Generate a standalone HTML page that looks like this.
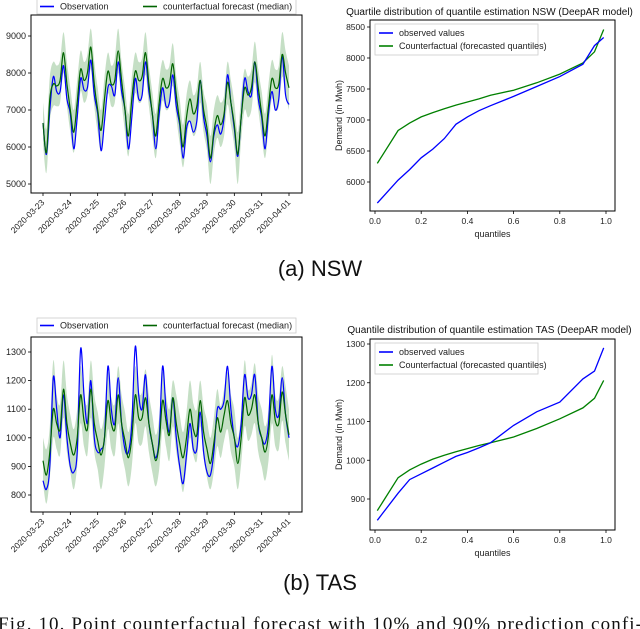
<!DOCTYPE html>
<html><head><meta charset="utf-8">
<style>
html,body{margin:0;padding:0;background:#fff;}
svg{display:block;font-family:"Liberation Sans",sans-serif;}
</style></head>
<body>
<svg id="fig" width="640" height="629" viewBox="0 0 640 629" xmlns="http://www.w3.org/2000/svg">
<text x="320" y="276" font-size="22" text-anchor="middle" fill="#111">(a) NSW</text>
<text x="320" y="590" font-size="22" text-anchor="middle" fill="#111">(b) TAS</text>
<text x="-2" y="630" font-size="19" font-family="'Liberation Serif',serif" fill="#111" textLength="644">Fig. 10.  Point counterfactual forecast with 10% and 90% prediction confi-</text>
</svg>
<script>
const dayLabels=["2020-03-23","2020-03-24","2020-03-25","2020-03-26","2020-03-27","2020-03-28","2020-03-29","2020-03-30","2020-03-31","2020-04-01"];
const nswObs=[6650,5800,7000,7900,7500,7500,8200,7300,6900,5950,6800,7850,7550,7600,8350,7400,6900,5900,6700,7600,7650,7400,8300,7500,7000,5950,6800,7850,7300,7400,8300,7500,6900,5950,6900,7600,7100,7200,7950,7100,6600,5700,6500,6700,6400,6700,7800,6800,6300,5600,6300,6600,6350,6800,7950,7200,6500,5750,6800,7850,7500,7400,8300,7300,6800,5950,6900,7500,7000,7300,8450,7400,7150];
const nswMed=[6650,5850,7300,7700,7650,7800,8550,7700,7000,6400,7200,8100,7800,8000,8700,7700,7000,6450,7300,8050,7700,7800,8600,7800,7000,6300,7300,8050,7800,7900,8550,7700,6900,6300,7200,7850,7600,7700,8250,7400,6700,6000,6800,7300,6900,7100,7800,7000,6500,5700,6400,6850,6600,6900,7750,7200,6600,5800,6800,7600,7400,7600,8300,7600,6900,6300,7100,7850,7600,7700,8500,8000,7600];
const nswHi=[7200,6500,7900,8300,8200,8350,9100,8300,7600,7000,7800,8600,8300,8500,9200,8300,7600,7000,7900,8550,8200,8400,9200,8300,7600,6900,7900,8550,8300,8400,9100,8200,7500,6900,7800,8350,8100,8200,8800,7900,7300,6600,7400,7800,7400,7600,8300,7500,7100,6300,7000,7400,7200,7400,8300,7800,7200,6400,7400,8100,7900,8100,8850,8100,7500,6900,7700,8350,8100,8200,9100,8600,8200];
const nswLo=[6100,5300,6700,7100,7100,7200,8000,7100,6400,5850,6600,7500,7200,7400,8100,7100,6400,5900,6700,7450,7100,7200,8000,7200,6400,5750,6700,7450,7200,7300,7950,7100,6300,5700,6600,7250,7000,7100,7650,6800,6100,5450,6200,6700,6300,6500,7200,6400,5900,5000,5800,6250,6000,6300,7150,6600,6000,5000,6200,7000,6800,7000,7750,7000,6300,5700,6500,7300,7000,7100,7900,7400,7000];
const tasObs=[850,820,900,1210,1100,1000,1150,1000,900,880,950,1310,1150,1050,1200,1000,950,960,1000,1250,1100,1050,1210,1050,960,950,1050,1320,1150,1100,1220,1050,980,930,1000,1250,1100,1020,1140,1000,900,840,940,1050,960,960,1090,950,880,870,950,1100,1100,1130,1250,1100,1000,970,1050,1220,1140,1150,1220,1050,1000,980,1050,1250,1100,1080,1210,1080,1000];
const tasMed=[920,870,950,1100,1050,1030,1170,1050,980,940,1000,1150,1060,1030,1170,1050,990,940,1000,1130,1050,1030,1150,1050,990,930,1000,1150,1070,1070,1140,1050,980,920,980,1130,1060,1010,1140,1050,980,930,1000,1100,1030,1010,1130,1020,960,910,980,1070,1020,1080,1130,1050,1000,910,1000,1140,1080,1100,1150,1050,1000,950,1010,1150,1060,1050,1160,1080,1010];
const tasHi=[1000,960,1040,1270,1150,1120,1270,1150,1080,1030,1100,1250,1150,1120,1270,1150,1090,1030,1090,1230,1140,1120,1250,1150,1090,1020,1100,1250,1160,1160,1240,1150,1080,1010,1070,1230,1150,1100,1200,1150,1080,1020,1090,1200,1120,1100,1200,1110,1060,1000,1070,1170,1110,1170,1230,1150,1100,1000,1090,1270,1170,1190,1260,1150,1100,1040,1100,1290,1150,1140,1250,1180,1100];
const tasLo=[840,770,860,1000,960,940,1070,950,880,820,900,1050,970,940,1070,950,890,820,900,1030,960,940,1050,950,890,830,900,1050,980,980,1040,950,880,830,890,1030,970,920,1040,950,880,810,900,1000,940,920,1040,930,860,820,880,970,930,990,1030,950,900,820,910,1040,990,1010,1050,950,900,850,920,1050,970,960,1060,980,920];
const qLevels=[0.01,0.1,0.15,0.2,0.25,0.3,0.35,0.4,0.45,0.5,0.6,0.7,0.8,0.9,0.95,0.99];
const nswQObs=[5660,6030,6200,6390,6530,6700,6930,7050,7150,7230,7380,7540,7700,7900,8200,8330];
const nswQCf=[6300,6830,6950,7050,7120,7180,7240,7290,7340,7400,7480,7600,7740,7920,8100,8460];
const tasQObs=[845,915,950,965,980,995,1010,1020,1032,1045,1090,1125,1150,1210,1230,1290];
const tasQCf=[870,955,975,990,1003,1013,1022,1030,1038,1045,1060,1082,1107,1135,1160,1206];
const nswTsTicks=[5000,6000,7000,8000,9000];
const tasTsTicks=[800,900,1000,1100,1200,1300];
const nswQTicks=[6000,6500,7000,7500,8000,8500];
const tasQTicks=[900,1000,1100,1200,1300];
const qXTicks=[0,0.2,0.4,0.6,0.8,1.0];
const qXLabels=["0.0","0.2","0.4","0.6","0.8","1.0"];

const NS="http://www.w3.org/2000/svg";
const svg=document.getElementById('fig');
function mk(tag,attrs,parent,txt){const e=document.createElementNS(NS,tag);for(const k in attrs)e.setAttribute(k,attrs[k]);if(txt!==undefined)e.textContent=txt;(parent||svg).appendChild(e);return e;}
function lin(d0,d1,r0,r1){return v=>r0+(v-d0)*(r1-r0)/(d1-d0);}
function pathOf(xs,ys,xf,yf){return xs.map((x,i)=>(i?'L':'M')+xf(x).toFixed(1)+' '+yf(ys[i]).toFixed(1)).join(' ');}
function smoothPts(P,move){
  let d=move?'M'+P[0][0].toFixed(1)+' '+P[0][1].toFixed(1):'L'+P[0][0].toFixed(1)+' '+P[0][1].toFixed(1);
  for(let i=0;i<P.length-1;i++){
    const p0=P[Math.max(i-1,0)],p1=P[i],p2=P[i+1],p3=P[Math.min(i+2,P.length-1)];
    const c1=[p1[0]+(p2[0]-p0[0])/6,p1[1]+(p2[1]-p0[1])/6],c2=[p2[0]-(p3[0]-p1[0])/6,p2[1]-(p3[1]-p1[1])/6];
    d+=` C${c1[0].toFixed(1)} ${c1[1].toFixed(1)} ${c2[0].toFixed(1)} ${c2[1].toFixed(1)} ${p2[0].toFixed(1)} ${p2[1].toFixed(1)}`;
  }
  return d;
}

function legend(g,x,y,w,h,items,gap,horizontal){
  const r=mk('rect',{x:x,y:y,width:w,height:h,fill:'#fff',stroke:'#ccc','stroke-width':0.8},g);
  
  items.forEach((it,i)=>{
    const lx=horizontal?x+it.off:x+4, ly=horizontal?y+h/2:y+9+i*gap;
    const e=mk('g',{},g);
    
    
    mk('line',{x1:lx,y1:ly,x2:lx+14,y2:ly,stroke:it.c,'stroke-width':1.6},e);
    mk('text',{x:lx+20,y:ly+3.2,'font-size':9,fill:'#222'},e,it.t);
  });
}

function tsChart(name,top,bottom,yMin,yMax,yTickVals,obs,med,lo,hi,legY){
  const g=mk('g',{});
  
  
  const L=31,R=302,x0=43,x1=289;
  const xs=obs.map((_,i)=>i/8);
  const xf=lin(0,9,x0,x1);
  const yf=lin(yMin,yMax,bottom,top);
  const P=(arr)=>xs.map((x,i)=>[xf(x),yf(arr[i])]);
  const band=smoothPts(P(hi),true)+' '+smoothPts(P(lo).reverse(),false)+'Z';
  const b=mk('path',{d:band,fill:'#2e8b2e','fill-opacity':0.28,stroke:'none'},g);
  
  const po=mk('path',{d:smoothPts(P(obs),true),fill:'none',stroke:'#0000ff','stroke-width':1.2},g);
  
  const pm=mk('path',{d:smoothPts(P(med),true),fill:'none',stroke:'#006400','stroke-width':1.2},g);
  
  const fr=mk('rect',{x:L,y:top,width:R-L,height:bottom-top,fill:'none',stroke:'#000','stroke-width':1},g);
  
  yTickVals.forEach(v=>{
    const y=yf(v);
    mk('line',{x1:L-3,y1:y,x2:L,y2:y,stroke:'#000','stroke-width':0.8},g);
    const t=mk('text',{x:L-5,y:y+3,'font-size':9,'text-anchor':'end',fill:'#222'},g,String(v));
    
  });
  dayLabels.forEach((d,i)=>{
    const x=xf(i);
    mk('line',{x1:x,y1:bottom,x2:x,y2:bottom+3,stroke:'#000','stroke-width':0.8},g);
    const t=mk('text',{x:x+2,y:bottom+10,'font-size':8.5,'text-anchor':'end',fill:'#222',transform:`rotate(-45 ${x+2} ${bottom+10})`},g,d);
    
  });
  legend(g,37,legY,259,15,[{c:'#0000ff',t:'Observation',off:3},{c:'#006400',t:'counterfactual forecast (median)',off:106}],0,true);
}

function qChart(name,title,top,bottom,yMin,yMax,yTickVals,qo,qc,titleY,legY){
  const g=mk('g',{});
  
  
  const L=370,R=615;
  const xf=lin(0,1,375,606), yf=lin(yMin,yMax,bottom,top);
  const tt=mk('text',{x:(L+R)/2-3,y:titleY,'font-size':10,'text-anchor':'middle',fill:'#111'},g,title);
  
  const lc=mk('path',{d:pathOf(qLevels,qc,xf,yf),fill:'none',stroke:'#008000','stroke-width':1.3},g);
  
  const lo=mk('path',{d:pathOf(qLevels,qo,xf,yf),fill:'none',stroke:'#0000ff','stroke-width':1.3},g);
  
  const fr=mk('rect',{x:L,y:top,width:R-L,height:bottom-top,fill:'none',stroke:'#000','stroke-width':1},g);
  
  yTickVals.forEach(v=>{
    const y=yf(v);
    mk('line',{x1:L-3,y1:y,x2:L,y2:y,stroke:'#000','stroke-width':0.8},g);
    const t=mk('text',{x:L-5,y:y+3,'font-size':8.5,'text-anchor':'end',fill:'#222'},g,String(v));
    
  });
  qXTicks.forEach((v,i)=>{
    const x=xf(v);
    mk('line',{x1:x,y1:bottom,x2:x,y2:bottom+3,stroke:'#000','stroke-width':0.8},g);
    const t=mk('text',{x:x,y:bottom+13,'font-size':8.5,'text-anchor':'middle',fill:'#222'},g,qXLabels[i]);
    
  });
  const xl=mk('text',{x:(L+R)/2,y:bottom+26,'font-size':9,'text-anchor':'middle',fill:'#222'},g,'quantiles');
  
  const cy=(top+bottom)/2;
  const yl=mk('text',{x:342,y:cy,'font-size':9,'text-anchor':'middle',fill:'#222',transform:`rotate(-90 342 ${cy})`},g,'Demand (in Mwh)');
  
  legend(g,375,legY,163,31,[{c:'#0000ff',t:'observed values'},{c:'#008000',t:'Counterfactual (forecasted quantiles)'}],13,false);
}

(function(){
  const per=(184-36)/4000;
  tsChart('nsw-timeseries-chart',15,193,5000-(193-184)/per,9000+(36-15)/per,nswTsTicks,nswObs,nswMed,nswLo,nswHi,-1);
  const p2=(495-352)/500;
  tsChart('tas-timeseries-chart',337,512,800-(512-495)/p2,1300+(352-337)/p2,tasTsTicks,tasObs,tasMed,tasLo,tasHi,318);
  const p3=(182-27)/2500;
  qChart('nsw-quantile-chart','Quartile distribution of quantile estimation NSW (DeepAR model)',20,211,6000-(211-182)/p3,8500+(27-20)/p3,nswQTicks,nswQObs,nswQCf,15,24);
  const p4=(499-344)/400;
  qChart('tas-quantile-chart','Quantile distribution of quantile estimation TAS (DeepAR model)',339,530,900-(530-499)/p4,1300+(344-339)/p4,tasQTicks,tasQObs,tasQCf,333,343);
})();
</script>
</body></html>
